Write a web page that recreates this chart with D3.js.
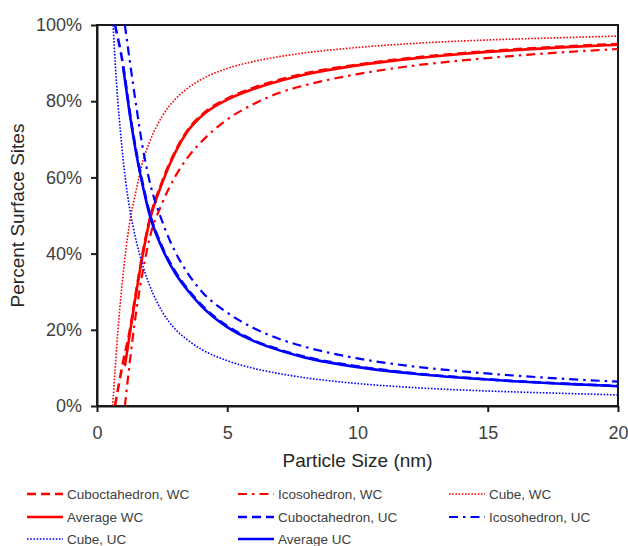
<!DOCTYPE html>
<html>
<head>
<meta charset="utf-8">
<script src="https://cdn.jsdelivr.net/npm/d3@7"></script>
<style>
  html, body { margin: 0; padding: 0; background: #fff; }
  svg { display: block; font-family: "Liberation Sans", Arial, sans-serif; }
</style>
</head>
<body>
<svg id="chart" width="628" height="546"></svg>
<script>
// Percent of surface sites vs particle size, [size nm, percent]
const cuboWC = [[0.69,0],[1.0,11.5],[1.25,19.5],[1.5,30],[1.75,40],[2,48.4],[2.5,58.9],[3,66.8],[3.5,72.6],[4,76.3],[5,80.7],[6,83.5],[7,85.6],[8,87.3],[10,89.6],[12,91.3],[14,92.6],[16,93.6],[18,94.4],[20,95.0]];
const icoWC = [[1.07,0],[1.25,11],[1.5,24.5],[1.75,35],[2,43.5],[2.5,53.2],[3,60.2],[3.5,65.4],[4,69.3],[5,75.2],[6,79.2],[7,82.2],[8,84.2],[10,87.1],[12,89.2],[14,90.7],[16,91.9],[18,92.9],[20,93.7]];
const cubeWC = [[0.6,0],[0.7,10],[0.8,19.5],[0.9,27.5],[1.0,34.5],[1.1,40.5],[1.25,48],[1.5,56.5],[1.75,64],[2,69],[2.5,76],[3,80.5],[3.5,83.5],[4,85.7],[5,88.6],[6,90.4],[7,91.7],[8,92.7],[10,94.1],[12,95.1],[14,95.8],[16,96.3],[18,96.7],[20,97.1]];
const avgWC = [[1.07,10.5],[1.25,18.5],[1.5,29.5],[1.75,39.5],[2,48],[2.5,58.5],[3,66.5],[3.5,72.3],[4,76],[5,80.4],[6,83.2],[7,85.3],[8,87],[10,89.4],[12,91.1],[14,92.4],[16,93.4],[18,94.2],[20,94.8]];
const cuboUC = [[0.69,100],[1.0,89.5],[1.25,77.5],[1.5,67],[1.75,58.5],[2,51.2],[2.5,41.8],[3,35.3],[3.5,30.5],[4,26.6],[5,21],[6,17.3],[7,14.8],[8,12.9],[10,10.4],[12,8.7],[14,7.5],[16,6.55],[18,5.85],[20,5.25]];
const icoUC = [[1.07,100],[1.25,91],[1.5,79],[1.75,68],[2,59.5],[2.5,48.5],[3,40.5],[3.5,34.7],[4,30.2],[5,24.5],[6,20.5],[7,17.6],[8,15.5],[10,12.5],[12,10.5],[14,9.1],[16,8.0],[18,7.1],[20,6.4]];
const cubeUC = [[0.62,100],[0.7,90],[0.8,80],[0.9,72],[1.0,65],[1.1,59],[1.25,52],[1.5,43.5],[1.75,37],[2,32],[2.5,24.8],[3,20.2],[3.5,17.2],[4,14.9],[5,11.9],[6,9.9],[7,8.5],[8,7.4],[10,5.9],[12,4.9],[14,4.2],[16,3.7],[18,3.3],[20,2.9]];
const avgUC = [[1.0,89],[1.25,77],[1.5,66.5],[1.75,58],[2,50.7],[2.5,41.4],[3,34.9],[3.5,30.2],[4,26.3],[5,20.7],[6,17.1],[7,14.6],[8,12.7],[10,10.2],[12,8.6],[14,7.4],[16,6.5],[18,5.8],[20,5.2]];

const xTicks = [0, 5, 10, 15, 20];
const yTicks = [0, 20, 40, 60, 80, 100];

const RED = "#ff0000", BLUE = "#0000ff";
const STYLES = {
  solid:   { w: 2.6, dash: null },
  dashed:  { w: 2.6, dash: "9,5" },
  dashdot: { w: 2.2, dash: "9,5,2.5,5" },
  dotted:  { w: 1.6, dash: "1.6,1.6" }
};

// drawing order and legend order (row-major, 3 columns)
const series = [
  { name: "Cuboctahedron, WC", data: cuboWC, color: RED,  style: "dashed" },
  { name: "Icosohedron, WC",   data: icoWC,  color: RED,  style: "dashdot" },
  { name: "Cube, WC",          data: cubeWC, color: RED,  style: "dotted" },
  { name: "Average WC",        data: avgWC,  color: RED,  style: "solid" },
  { name: "Cuboctahedron, UC", data: cuboUC, color: BLUE, style: "dashed" },
  { name: "Icosohedron, UC",   data: icoUC,  color: BLUE, style: "dashdot" },
  { name: "Cube, UC",          data: cubeUC, color: BLUE, style: "dotted" },
  { name: "Average UC",        data: avgUC,  color: BLUE, style: "solid" }
];

const svg = d3.select("#chart");
const plot = { left: 97, right: 618, top: 25, bottom: 406 };

const x = d3.scaleLinear().domain([0, 20]).range([plot.left, plot.right]);
const y = d3.scaleLinear().domain([0, 100]).range([plot.bottom, plot.top]);

svg.append("defs").append("clipPath").attr("id", "plotclip")
  .append("rect")
  .attr("x", plot.left).attr("y", plot.top)
  .attr("width", plot.right - plot.left).attr("height", plot.bottom - plot.top);

// frame
svg.append("rect")
  .attr("x", plot.left).attr("y", plot.top)
  .attr("width", plot.right - plot.left).attr("height", plot.bottom - plot.top)
  .attr("fill", "none").attr("stroke", "#1a1a1a").attr("stroke-width", 2);

// curves
const line = d3.line()
  .x(d => x(d[0]))
  .y(d => y(d[1]))
  .curve(d3.curveMonotoneX);

const curves = svg.append("g").attr("clip-path", "url(#plotclip)");
series.forEach(s => {
  const st = STYLES[s.style];
  curves.append("path")
    .datum(s.data)
    .attr("d", line)
    .attr("fill", "none")
    .attr("stroke", s.color)
    .attr("stroke-width", st.w)
    .attr("stroke-dasharray", st.dash)
    .attr("stroke-linejoin", "round");
});

// axes
const xAxis = d3.axisBottom(x).tickValues(xTicks).tickSize(6).tickPadding(14).tickSizeOuter(0);
const yAxis = d3.axisLeft(y).tickValues(yTicks).tickSize(6).tickPadding(9).tickSizeOuter(0)
  .tickFormat(d => d + "%");

const gx = svg.append("g").attr("transform", `translate(0,${plot.bottom})`).call(xAxis);
const gy = svg.append("g").attr("transform", `translate(${plot.left},0)`).call(yAxis);

[gx, gy].forEach(g => {
  g.select(".domain").attr("stroke", "#1a1a1a").attr("stroke-width", 2);
  g.selectAll(".tick line").attr("stroke", "#1a1a1a").attr("stroke-width", 2);
  g.selectAll(".tick text")
    .attr("fill", "#404040")
    .style("font-family", "'Liberation Sans', Arial, sans-serif")
    .style("font-size", "18px");
});

// axis titles
svg.append("text")
  .attr("x", (plot.left + plot.right) / 2)
  .attr("y", 467)
  .attr("text-anchor", "middle")
  .attr("fill", "#262626")
  .style("font-size", "19px")
  .text("Particle Size (nm)");

svg.append("text")
  .attr("transform", `translate(24,${(plot.top + plot.bottom) / 2}) rotate(-90)`)
  .attr("text-anchor", "middle")
  .attr("fill", "#262626")
  .style("font-size", "19px")
  .text("Percent Surface Sites");

// legend
const legCols = [27, 238, 449];
const legRows = [494, 517, 539];
const legend = svg.append("g");
series.forEach((s, i) => {
  const cx = legCols[i % 3], cy = legRows[Math.floor(i / 3)];
  const st = STYLES[s.style];
  const g = legend.append("g");
  g.append("line")
    .attr("x1", cx).attr("x2", cx + 36)
    .attr("y1", cy).attr("y2", cy)
    .attr("stroke", s.color)
    .attr("stroke-width", st.w)
    .attr("stroke-dasharray", st.dash);
  g.append("text")
    .attr("x", cx + 40).attr("y", cy)
    .attr("dy", "0.35em")
    .attr("fill", "#404040")
    .style("font-size", "13.5px")
    .text(s.name);
});
</script>
</body>
</html>
